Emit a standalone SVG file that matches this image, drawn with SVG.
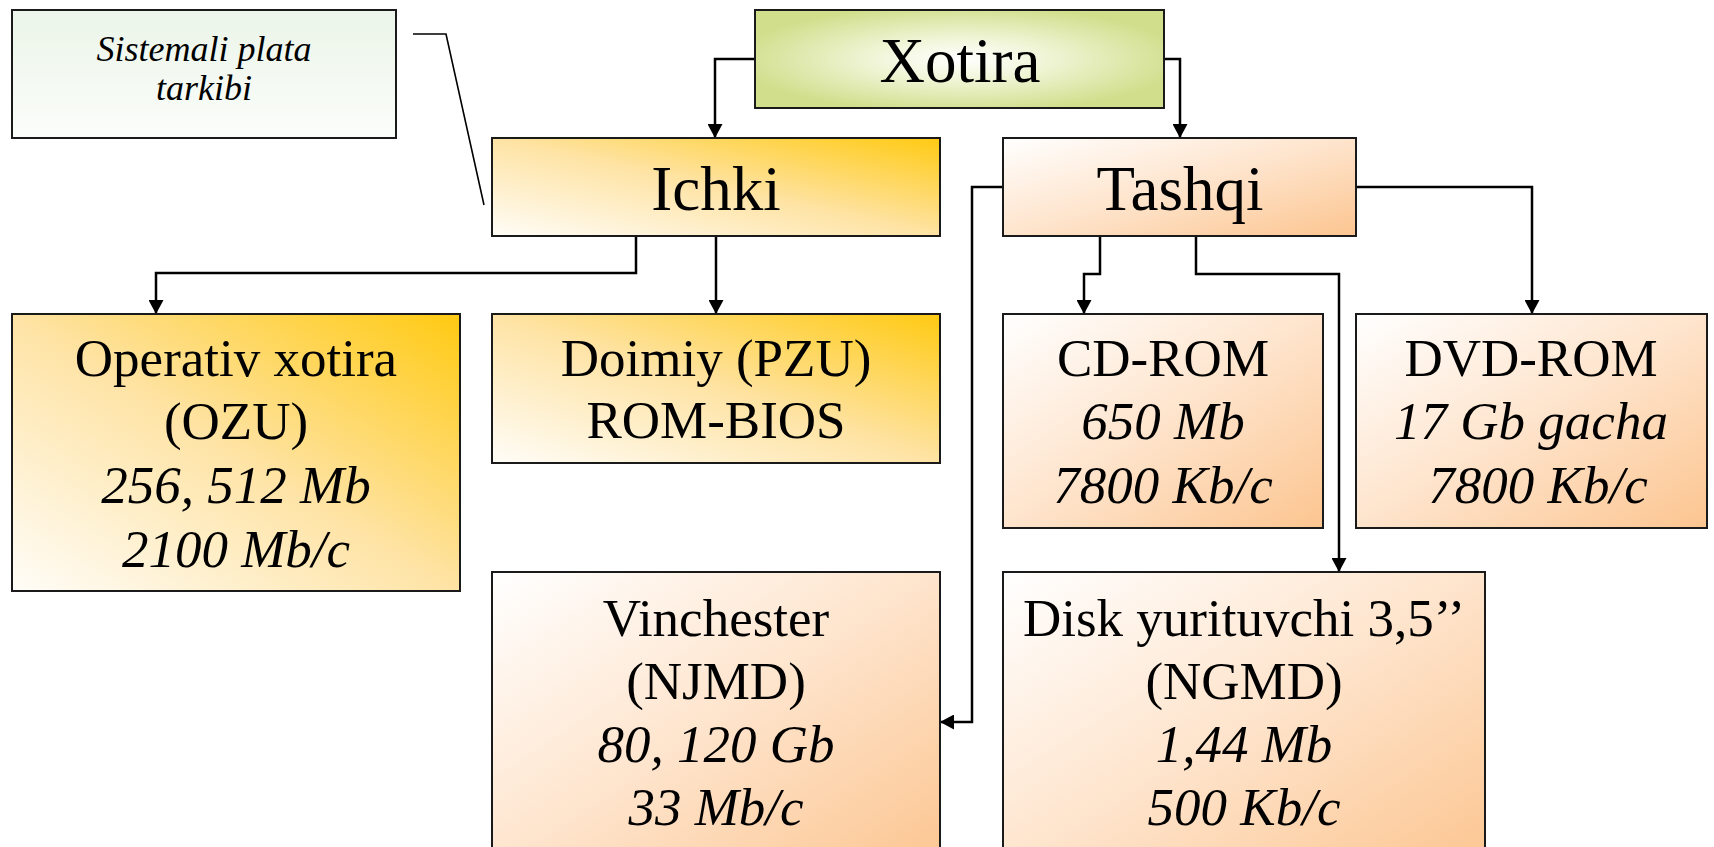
<svg xmlns="http://www.w3.org/2000/svg" width="1714" height="847" viewBox="0 0 1714 847">
  <style>
    .box { stroke: #1a1a1a; stroke-width: 2; }
    .t { font-family: "Liberation Serif", "Times New Roman", serif; fill: #000; text-anchor: middle; }
    .big { font-size: 63px; }
    .mid { font-size: 53px; }
    .it { font-style: italic; }
    .note { font-size: 36px; font-style: italic; }
    .wire { fill: none; stroke: #000; stroke-width: 2.5; }
    .callout { fill: none; stroke: #000; stroke-width: 1.6; }
  </style>
  <defs>
    <radialGradient id="gGreen" cx="0.5" cy="0.5" r="0.55">
      <stop offset="0" stop-color="#ffffff"/>
      <stop offset="0.35" stop-color="#f2f6db"/>
      <stop offset="1" stop-color="#d1de8b"/>
    </radialGradient>
    <linearGradient id="gGold" x1="0" y1="1" x2="1" y2="0">
      <stop offset="0" stop-color="#fffdf8"/>
      <stop offset="0.5" stop-color="#fee3a4"/>
      <stop offset="1" stop-color="#ffca12"/>
    </linearGradient>
    <linearGradient id="gPeach" x1="0" y1="0" x2="1" y2="1">
      <stop offset="0" stop-color="#ffffff"/>
      <stop offset="0.5" stop-color="#fee4cc"/>
      <stop offset="1" stop-color="#fcc590"/>
    </linearGradient>
    <linearGradient id="gMint" x1="0" y1="0" x2="0" y2="1">
      <stop offset="0" stop-color="#ebf5e9"/>
      <stop offset="1" stop-color="#fbfdfa"/>
    </linearGradient>
    <marker id="arr" markerWidth="14" markerHeight="15" refX="14" refY="7.5" orient="auto" markerUnits="userSpaceOnUse">
      <path d="M0,0 L14,7.5 L0,15 z" fill="#000"/>
    </marker>
  </defs>

  <!-- connectors -->
  <g id="connectors">
    <path class="wire" d="M755,59 H715 V138" marker-end="url(#arr)"/>
    <path class="wire" d="M1164,59 H1180 V138" marker-end="url(#arr)"/>
    <path class="wire" d="M636,236 V273 H156 V314" marker-end="url(#arr)"/>
    <path class="wire" d="M716,236 V314" marker-end="url(#arr)"/>
    <path class="wire" d="M1100,236 V274 H1084 V314" marker-end="url(#arr)"/>
    <path class="wire" d="M1196,236 V274 H1339 V572" marker-end="url(#arr)"/>
    <path class="wire" d="M1356,187 H1532 V314" marker-end="url(#arr)"/>
    <path class="wire" d="M1003,187 H972 V722 H940" marker-end="url(#arr)"/>
    <path class="callout" d="M413,34 H446 L484,205"/>
  </g>

  <g id="note">
    <rect class="box" x="12" y="10" width="384" height="128" fill="url(#gMint)" stroke-width="1.6"/>
    <text class="t note" x="204" y="61">Sistemali plata</text>
    <text class="t note" x="204" y="100">tarkibi</text>
  </g>

  <g id="xotira">
    <rect class="box" x="755" y="10" width="409" height="98" fill="url(#gGreen)"/>
    <text class="t big" x="960" y="82">Xotira</text>
  </g>

  <g id="ichki">
    <rect class="box" x="492" y="138" width="448" height="98" fill="url(#gGold)"/>
    <text class="t big" x="716" y="210">Ichki</text>
  </g>

  <g id="tashqi">
    <rect class="box" x="1003" y="138" width="353" height="98" fill="url(#gPeach)"/>
    <text class="t big" x="1180" y="210">Tashqi</text>
  </g>

  <g id="operativ">
    <rect class="box" x="12" y="314" width="448" height="277" fill="url(#gGold)"/>
    <text class="t mid" x="236" y="376">Operativ xotira</text>
    <text class="t mid" x="236" y="439">(OZU)</text>
    <text class="t mid it" x="236" y="503">256, 512 Mb</text>
    <text class="t mid it" x="236" y="567">2100 Mb/c</text>
  </g>

  <g id="doimiy">
    <rect class="box" x="492" y="314" width="448" height="149" fill="url(#gGold)"/>
    <text class="t mid" x="716" y="376">Doimiy (PZU)</text>
    <text class="t mid" x="716" y="438">ROM-BIOS</text>
  </g>

  <g id="cdrom">
    <rect class="box" x="1003" y="314" width="320" height="214" fill="url(#gPeach)"/>
    <text class="t mid" x="1163" y="376">CD-ROM</text>
    <text class="t mid it" x="1163" y="439">650 Mb</text>
    <text class="t mid it" x="1163" y="503">7800 Kb/c</text>
  </g>

  <g id="dvdrom">
    <rect class="box" x="1356" y="314" width="351" height="214" fill="url(#gPeach)"/>
    <text class="t mid" x="1531" y="376">DVD-ROM</text>
    <text class="t mid it" x="1531" y="439">17 Gb gacha</text>
    <text class="t mid it" x="1538" y="503">7800 Kb/c</text>
  </g>

  <g id="vinchester">
    <rect class="box" x="492" y="572" width="448" height="300" fill="url(#gPeach)"/>
    <text class="t mid" x="716" y="636">Vinchester</text>
    <text class="t mid" x="716" y="699">(NJMD)</text>
    <text class="t mid it" x="716" y="762">80, 120 Gb</text>
    <text class="t mid it" x="716" y="825">33 Mb/c</text>
  </g>

  <g id="disk">
    <rect class="box" x="1003" y="572" width="482" height="300" fill="url(#gPeach)"/>
    <text class="t mid" x="1244" y="636">Disk yurituvchi 3,5’’</text>
    <text class="t mid" x="1244" y="699">(NGMD)</text>
    <text class="t mid it" x="1244" y="762">1,44 Mb</text>
    <text class="t mid it" x="1244" y="825">500 Kb/c</text>
  </g>
</svg>
